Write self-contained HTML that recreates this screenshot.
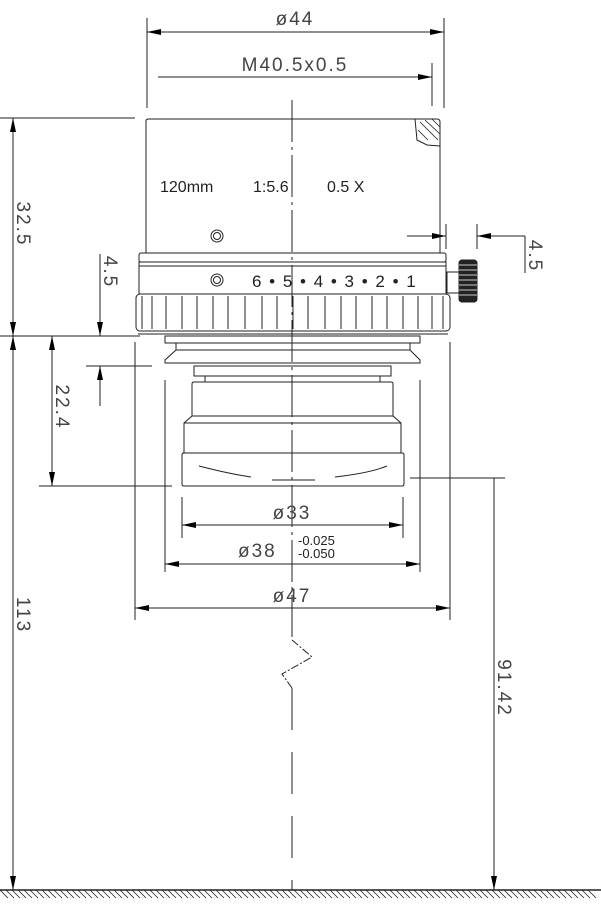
<!DOCTYPE html>
<html><head><meta charset="utf-8"><style>
html,body{margin:0;padding:0;background:#fff;}
svg{display:block;}
text{font-family:"Liberation Sans",sans-serif;fill:#222;}
.d{font-size:19px;fill:#444;letter-spacing:2px;}
</style></head><body>
<svg width="601" height="918" viewBox="0 0 601 918" xmlns="http://www.w3.org/2000/svg">
<defs>
<marker id="a" viewBox="0 0 14 6" refX="14" refY="3" markerWidth="14" markerHeight="6" orient="auto-start-reverse" markerUnits="userSpaceOnUse"><path d="M0,0 L14,3 L0,6 z" fill="#000"/></marker>
</defs>
<g stroke="#222" stroke-width="1" fill="none">
<line x1="147" y1="18" x2="147" y2="108"/>
<line x1="444" y1="18" x2="444" y2="108"/>
<line x1="147" y1="32" x2="444" y2="32" marker-start="url(#a)" marker-end="url(#a)"/>
<line x1="432" y1="63" x2="432" y2="106"/>
<line x1="158" y1="77" x2="432" y2="77" marker-end="url(#a)"/>
<line x1="0" y1="118" x2="135" y2="118"/>
<line x1="13" y1="118" x2="13" y2="336" marker-start="url(#a)" marker-end="url(#a)"/>
<line x1="0" y1="336" x2="140" y2="336"/>
<line x1="13" y1="336" x2="13" y2="890" marker-start="url(#a)" marker-end="url(#a)"/>
<line x1="100" y1="254" x2="100" y2="336" marker-end="url(#a)"/>
<line x1="100" y1="366" x2="100" y2="406" marker-start="url(#a)"/>
<line x1="86" y1="366" x2="152" y2="366"/>
<line x1="52" y1="336" x2="52" y2="486" marker-start="url(#a)" marker-end="url(#a)"/>
<line x1="39" y1="486" x2="172" y2="486"/>
<line x1="135" y1="342" x2="135" y2="620"/>
<line x1="165" y1="380" x2="165" y2="572"/>
<line x1="182" y1="497" x2="182" y2="538"/>
<line x1="403" y1="497" x2="403" y2="538"/>
<line x1="420" y1="380" x2="420" y2="572"/>
<line x1="450" y1="342" x2="450" y2="620"/>
<line x1="182" y1="525" x2="403" y2="525" marker-start="url(#a)" marker-end="url(#a)"/>
<line x1="165" y1="564" x2="420" y2="564" marker-start="url(#a)" marker-end="url(#a)"/>
<line x1="135" y1="608" x2="450" y2="608" marker-start="url(#a)" marker-end="url(#a)"/>
<line x1="410" y1="478" x2="505" y2="478"/>
<line x1="494" y1="478" x2="494" y2="890" marker-end="url(#a)"/>
<line x1="446" y1="224" x2="446" y2="249"/>
<line x1="477" y1="224" x2="477" y2="249"/>
<line x1="407" y1="236" x2="446" y2="236" marker-end="url(#a)"/>
<line x1="525" y1="236" x2="477" y2="236" marker-end="url(#a)"/>
<line x1="525" y1="236" x2="525" y2="273"/>
<line x1="0" y1="890" x2="601" y2="890" stroke-width="1.5"/>
<path d="M0,890 l8,8 M6,890 l8,8 M12,890 l8,8 M18,890 l8,8 M24,890 l8,8 M30,890 l8,8 M36,890 l8,8 M42,890 l8,8 M48,890 l8,8 M54,890 l8,8 M60,890 l8,8 M66,890 l8,8 M72,890 l8,8 M78,890 l8,8 M84,890 l8,8 M90,890 l8,8 M96,890 l8,8 M102,890 l8,8 M108,890 l8,8 M114,890 l8,8 M120,890 l8,8 M126,890 l8,8 M132,890 l8,8 M138,890 l8,8 M144,890 l8,8 M150,890 l8,8 M156,890 l8,8 M162,890 l8,8 M168,890 l8,8 M174,890 l8,8 M180,890 l8,8 M186,890 l8,8 M192,890 l8,8 M198,890 l8,8 M204,890 l8,8 M210,890 l8,8 M216,890 l8,8 M222,890 l8,8 M228,890 l8,8 M234,890 l8,8 M240,890 l8,8 M246,890 l8,8 M252,890 l8,8 M258,890 l8,8 M264,890 l8,8 M270,890 l8,8 M276,890 l8,8 M282,890 l8,8 M288,890 l8,8 M294,890 l8,8 M300,890 l8,8 M306,890 l8,8 M312,890 l8,8 M318,890 l8,8 M324,890 l8,8 M330,890 l8,8 M336,890 l8,8 M342,890 l8,8 M348,890 l8,8 M354,890 l8,8 M360,890 l8,8 M366,890 l8,8 M372,890 l8,8 M378,890 l8,8 M384,890 l8,8 M390,890 l8,8 M396,890 l8,8 M402,890 l8,8 M408,890 l8,8 M414,890 l8,8 M420,890 l8,8 M426,890 l8,8 M432,890 l8,8 M438,890 l8,8 M444,890 l8,8 M450,890 l8,8 M456,890 l8,8 M462,890 l8,8 M468,890 l8,8 M474,890 l8,8 M480,890 l8,8 M486,890 l8,8 M492,890 l8,8 M498,890 l8,8 M504,890 l8,8 M510,890 l8,8 M516,890 l8,8 M522,890 l8,8 M528,890 l8,8 M534,890 l8,8 M540,890 l8,8 M546,890 l8,8 M552,890 l8,8 M558,890 l8,8 M564,890 l8,8 M570,890 l8,8 M576,890 l8,8 M582,890 l8,8 M588,890 l8,8" stroke-width="0.8"/>

<path d="M146,121 Q146,119 149,119 L437,119 Q440,119 440,122 L440,253"/>
<line x1="146" y1="121" x2="146" y2="253"/>
<path d="M415,119 L417,140 L427,145 L440,146" />
<path d="M420,122 L438,140 M425,120 L440,134 M432,119 L440,127 M418,130 L428,140" stroke-width="0.8"/>
<circle cx="217" cy="236" r="6"/><circle cx="217" cy="236" r="3.5"/>
<rect x="139" y="253" width="307" height="9" rx="2"/>
<rect x="139" y="262" width="307" height="32"/>
<line x1="139" y1="266" x2="446" y2="266"/>
<circle cx="217" cy="280" r="6"/><circle cx="217" cy="280" r="3.5"/>
<rect x="447" y="272" width="12" height="21"/>
<rect x="459" y="260" width="18" height="42" rx="3" fill="#222"/>
<path d="M459,265h18M459,270h18M459,275h18M459,280h18M459,285h18M459,290h18M459,295h18" stroke="#fff" stroke-width="0.8"/>
<rect x="136" y="294" width="314" height="37" rx="4"/>
<path d="M142,296v33M152,296v33M166,296v33M182,296v33M197,296v33M213,296v33M228,296v33M245,296v33M262,296v33M277,296v33M293,296v33M308,296v33M325,296v33M341,296v33M356,296v33M372,296v33M387,296v33M403,296v33M418,296v33M432,296v33M443,296v33"/>
<line x1="138" y1="334" x2="448" y2="334"/>
<rect x="165" y="336" width="255" height="7"/>
<path d="M176,343 L176,350 L165,360 L165,363 L420,363 L420,360 L410,350 L410,343"/>
<line x1="176" y1="350" x2="410" y2="350"/>
<rect x="194" y="366" width="197" height="10"/>
<rect x="205" y="376" width="175" height="6"/>
<path d="M192,416 L192,384 Q192,382 194,382 L391,382 Q393,382 393,384 L393,416 L401,423 L401,453 L184,453 L184,423 L192,416 Z"/>
<line x1="192" y1="416" x2="393" y2="416"/>
<line x1="184" y1="423" x2="401" y2="423"/>
<path d="M183,453 L402,453 Q404,453 404,455 L404,484 Q404,486 402,486 L184,486 Q182,486 182,484 L182,455 Q182,453 184,453 Z"/>
<path d="M199,466 Q230,474 251,477 M272,480 L315,480 M335,477 Q370,473 387,466"/>
<path d="M292,100 V640" stroke-dasharray="42,5,3,5"/>
<path d="M292,640 L312,657 L282,674 L292,688" stroke-dasharray="8,2,2,2"/>
<path d="M292,688 V890" stroke-dasharray="42,22"/>
</g>

<text class="d" x="295" y="25" text-anchor="middle">ø44</text>
<text class="d" x="295" y="71" text-anchor="middle">M40.5x0.5</text>
<text x="160" y="192" font-size="16">120mm</text>
<text x="253" y="192" font-size="16">1:5.6</text>
<text x="327" y="192" font-size="16">0.5 X</text>
<text x="252" y="287" font-size="17" word-spacing="3">6 • 5 • 4 • 3 • 2 • 1</text>
<text class="d" x="292" y="519" text-anchor="middle">ø33</text>
<text class="d" x="238" y="557">ø38</text>
<text x="298" y="545" font-size="13" fill="#444">-0.025</text>
<text x="298" y="558" font-size="13" fill="#444">-0.050</text>
<text class="d" x="292" y="602" text-anchor="middle">ø47</text>
<text class="d" transform="translate(17,224) rotate(90)" text-anchor="middle">32.5</text>
<text class="d" transform="translate(104,272) rotate(90)" text-anchor="middle">4.5</text>
<text class="d" transform="translate(56,407) rotate(90)" text-anchor="middle">22.4</text>
<text class="d" transform="translate(17,615) rotate(90)" text-anchor="middle">113</text>
<text class="d" transform="translate(529,256) rotate(90)" text-anchor="middle">4.5</text>
<text class="d" transform="translate(498,688) rotate(90)" text-anchor="middle">91.42</text>
</svg>
</body></html>
